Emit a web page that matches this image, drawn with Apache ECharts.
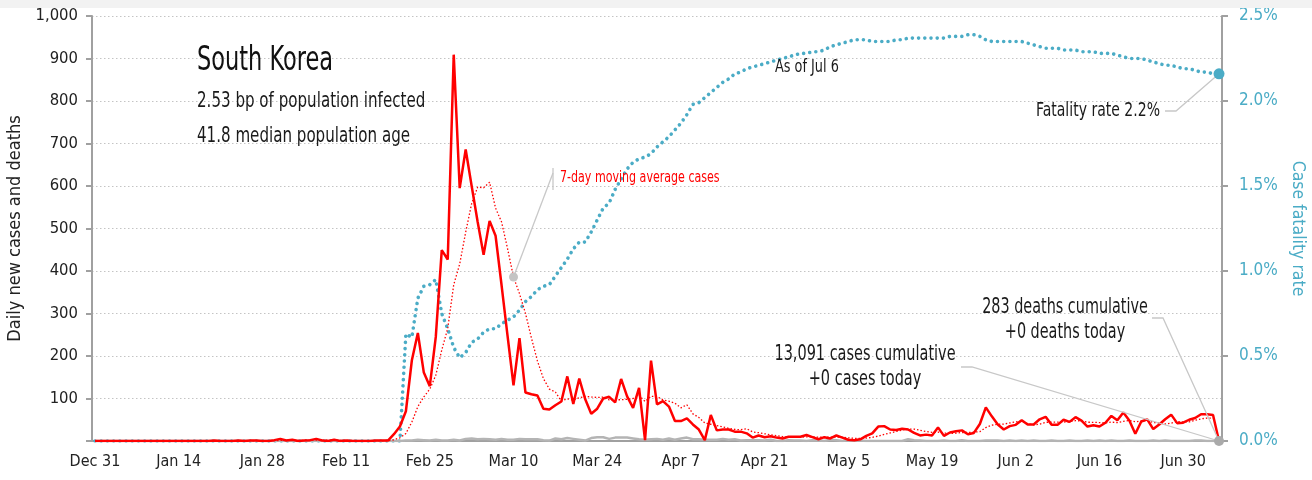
<!DOCTYPE html>
<html>
<head>
<meta charset="utf-8">
<title>South Korea</title>
<script src="https://cdn.jsdelivr.net/npm/echarts@6.0.0/dist/echarts.min.js"></script>
<style>
  html, body { margin: 0; padding: 0; background: #fff; }
  #chart { width: 1312px; height: 480px; }
</style>
</head>
<body>
<div id="chart"></div>
<script>
const FONT = '"Liberation Sans Narrow", "DejaVu Sans Condensed", sans-serif'
const BLUE = '#4bacc6'
const RED = '#ff0000'
const GREY = '#b4b4b4'
const LEADER = '#c8c8c8'

// one value per day, starting Dec 31 (rows of 14 days)
const startDate = '2019-12-31'
const monthNames = ['Jan', 'Feb', 'Mar', 'Apr', 'May', 'Jun', 'Jul', 'Aug', 'Sep', 'Oct', 'Nov', 'Dec']

const cases = [
  0, 0, 0, 0, 0, 0, 0, 0, 0, 0, 0, 0, 0, 0,
  0, 0, 0, 0, 0, 0, 1, 0, 0, 0, 1, 0, 1, 1,
  0, 0, 2, 5, 1, 3, 0, 1, 2, 5, 1, 0, 3, 0,
  1, 0, 0, 0, 0, 1, 1, 1, 16, 34, 70, 190, 254, 161,
  129, 245, 449, 427, 909, 595, 686, 600, 516, 438, 518, 483, 367, 248,
  131, 242, 114, 110, 107, 76, 74, 84, 93, 152, 87, 147, 98, 64,
  76, 100, 104, 91, 146, 105, 78, 125, 2, 189, 86, 94, 81, 47,
  47, 53, 39, 27, 2, 61, 25, 27, 27, 22, 22, 18, 8, 13,
  9, 11, 8, 6, 10, 10, 10, 14, 9, 4, 9, 6, 13, 8,
  3, 2, 4, 12, 18, 34, 35, 27, 26, 29, 27, 19, 13, 15,
  13, 32, 12, 20, 23, 25, 16, 19, 40, 79, 58, 39, 27, 35,
  38, 49, 39, 39, 51, 57, 38, 38, 50, 45, 56, 48, 34, 37,
  34, 43, 59, 49, 67, 48, 17, 46, 51, 28, 39, 51, 62, 42,
  43, 50, 54, 63, 63, 61, 0
]

const casesAvg7 = [
  0, 0, 0, 0, 0, 0, 0, 0, 0, 0, 0, 0, 0, 0,
  0, 0, 0, 0, 0, 0, 0.1, 0.1, 0.1, 0.1, 0.3, 0.3, 0.4, 0.4,
  0.4, 0.4, 0.7, 1.3, 1.4, 1.7, 1.6, 1.7, 2, 2.4, 1.9, 1.7, 1.7, 1.7,
  1.7, 1.4, 0.7, 0.6, 0.6, 0.3, 0.4, 0.4, 2.7, 7.6, 17.6, 44.7, 80.9, 103.7,
  122, 154.7, 214, 265, 367.7, 416.4, 491.4, 558.7, 597.4, 595.9, 608.9, 548, 515.4, 452.9,
  385.9, 346.7, 300.4, 242.1, 188.4, 146.9, 122, 115.3, 94, 99.4, 96.1, 101.9, 105, 103.6,
  102.4, 103.4, 96.6, 97.1, 97, 98, 100, 107, 93, 105.1, 104.4, 97, 93.6, 89.1,
  78, 85.3, 63.9, 55.4, 42.3, 39.4, 36.3, 33.4, 29.7, 27.3, 26.6, 28.9, 21.3, 19.6,
  17, 14.7, 12.7, 10.4, 9.3, 9.6, 9.1, 9.9, 9.6, 9, 9.4, 8.9, 9.3, 9,
  7.4, 6.4, 6.4, 6.9, 8.6, 11.6, 15.4, 18.9, 22.3, 25.9, 28, 28.1, 25.1, 22.3,
  20.3, 21.1, 18.7, 17.7, 18.3, 20, 20.1, 21, 22.1, 31.7, 37.1, 39.4, 39.7, 42.4,
  45.1, 46.4, 40.7, 38, 39.7, 44, 44.4, 44.4, 44.6, 45.4, 47.9, 47.4, 44.1, 44,
  43.4, 42.4, 44.4, 43.4, 46.1, 48.1, 45.3, 47, 48.1, 43.7, 42.3, 40, 42, 45.6,
  45.1, 45, 48.7, 52.1, 53.9, 53.7, null
]

const deaths = [
  0, 0, 0, 0, 0, 0, 0, 0, 0, 0, 0, 0, 0, 0,
  0, 0, 0, 0, 0, 0, 0, 0, 0, 0, 0, 0, 0, 0,
  0, 0, 0, 0, 0, 0, 0, 0, 0, 0, 0, 0, 0, 0,
  0, 0, 0, 0, 0, 0, 0, 0, 0, 0, 1, 1, 3, 2,
  1, 3, 1, 1, 3, 1, 5, 6, 4, 5, 4, 3, 5, 3,
  3, 5, 4, 4, 4, 2, 1, 6, 4, 7, 5, 3, 1, 7,
  9, 9, 5, 8, 8, 8, 6, 4, 3, 4, 5, 3, 6, 3,
  6, 8, 4, 4, 3, 3, 3, 5, 3, 4, 1, 2, 2, 2,
  1, 3, 0, 0, 2, 1, 1, 0, 2, 1, 0, 3, 2, 0,
  2, 1, 1, 0, 0, 0, 0, 0, 0, 0, 4, 2, 1, 0,
  0, 0, 1, 0, 0, 2, 0, 0, 0, 1, 1, 1, 0, 1,
  0, 1, 0, 1, 0, 0, 1, 0, 0, 1, 0, 0, 1, 0,
  1, 0, 1, 0, 0, 1, 0, 0, 0, 1, 0, 1, 0, 0,
  0, 0, 1, 1, 0, 0, 0
]

// case fatality rate, percent
const fatalityRate = [
  0, 0, 0, 0, 0, 0, 0, 0, 0, 0, 0, 0, 0, 0,
  0, 0, 0, 0, 0, 0, 0, 0, 0, 0, 0, 0, 0, 0,
  0, 0, 0, 0, 0, 0, 0, 0, 0, 0, 0, 0, 0, 0,
  0, 0, 0, 0, 0, 0, 0, 0, 0, 0, 0.63, 0.61, 0.84, 0.91,
  0.92, 0.95, 0.75, 0.66, 0.55, 0.49, 0.52, 0.58, 0.60, 0.64, 0.66, 0.66, 0.69, 0.71,
  0.73, 0.77, 0.82, 0.85, 0.89, 0.91, 0.92, 0.97, 1.02, 1.07, 1.13, 1.17, 1.17, 1.23,
  1.30, 1.37, 1.40, 1.48, 1.54, 1.60, 1.64, 1.66, 1.67, 1.69, 1.73, 1.76, 1.79, 1.83,
  1.87, 1.92, 1.98, 1.99, 2.02, 2.05, 2.08, 2.11, 2.13, 2.16, 2.17, 2.19, 2.20, 2.21,
  2.22, 2.23, 2.24, 2.25, 2.26, 2.27, 2.28, 2.28, 2.29, 2.29, 2.30, 2.32, 2.33, 2.34,
  2.35, 2.36, 2.36, 2.36, 2.35, 2.35, 2.35, 2.35, 2.36, 2.36, 2.37, 2.37, 2.37, 2.37,
  2.37, 2.37, 2.37, 2.38, 2.38, 2.38, 2.39, 2.39, 2.38, 2.36, 2.35, 2.35, 2.35, 2.35,
  2.35, 2.35, 2.34, 2.33, 2.32, 2.31, 2.31, 2.31, 2.30, 2.30, 2.30, 2.29, 2.29, 2.29,
  2.28, 2.28, 2.28, 2.27, 2.26, 2.25, 2.25, 2.25, 2.24, 2.23, 2.22, 2.21, 2.21, 2.20,
  2.19, 2.19, 2.18, 2.17, 2.17, 2.16, 2.16
]

const categories = cases.map((_, i) => {
  const d = new Date(Date.parse(startDate) + i * 864e5)
  return monthNames[d.getUTCMonth()] + ' ' + d.getUTCDate()
})

const axisGrey = { color: '#a0a0a0', width: 2 }

const chart = echarts.init(document.getElementById('chart'))
chart.setOption({
  animation: false,
  textStyle: { fontFamily: FONT },
  grid: { left: 92, right: 90, top: 16, bottom: 39, containLabel: false, outerBoundsMode: 'none' },
  xAxis: {
    type: 'category',
    data: categories,
    boundaryGap: true,
    axisLine: { lineStyle: axisGrey },
    axisTick: { interval: 13, length: 6, lineStyle: axisGrey },
    axisLabel: { interval: 13, fontSize: 16, color: '#222', margin: 13, fontFamily: FONT }
  },
  yAxis: [{
    type: 'value',
    min: 0,
    max: 1000,
    interval: 100,
    name: 'Daily new cases and deaths',
    nameLocation: 'middle',
    nameGap: 63,
    nameTextStyle: { fontSize: 18, color: '#222', fontFamily: FONT },
    axisLine: { show: true, lineStyle: axisGrey },
    axisTick: { show: true, length: 6, lineStyle: axisGrey },
    axisLabel: {
      fontSize: 16.5, color: '#222', margin: 14, fontFamily: FONT,
      formatter: v => v === 0 ? '' : v.toLocaleString('en-US')
    },
    splitLine: { lineStyle: { type: [1.5, 2.5], color: '#c4c4c4', width: 1 } }
  }, {
    type: 'value',
    position: 'right',
    min: 0,
    max: 2.5,
    interval: 0.5,
    name: 'Case fatality rate',
    nameLocation: 'middle',
    nameRotate: -90,
    nameGap: 64,
    nameTextStyle: { fontSize: 17.5, color: BLUE, fontFamily: FONT },
    axisLine: { show: true, lineStyle: axisGrey },
    axisTick: { show: true, length: 6, lineStyle: axisGrey },
    axisLabel: { fontSize: 17, color: BLUE, margin: 17, fontFamily: FONT, formatter: v => v.toFixed(1) + '%' },
    splitLine: { show: false }
  }],
  series: [{
    name: 'Case fatality rate',
    type: 'line',
    yAxisIndex: 1,
    data: fatalityRate,
    showSymbol: false,
    lineStyle: { color: BLUE, width: 3.6, type: [0.01, 6.2], cap: 'round' }
  }, {
    name: 'Daily deaths',
    type: 'line',
    data: deaths,
    showSymbol: false,
    lineStyle: { color: GREY, width: 2.5 }
  }, {
    name: '7-day moving average cases',
    type: 'line',
    data: casesAvg7,
    showSymbol: false,
    lineStyle: { color: RED, width: 1.3, type: [1.5, 2] }
  }, {
    name: 'Daily new cases',
    type: 'line',
    data: cases,
    showSymbol: false,
    lineStyle: { color: RED, width: 2.5 }
  }]
})

// annotations, anchored on the data through the axes
const last = cases.length - 1
const avgIdx = categories.indexOf('Mar 10')
const ptCfr = chart.convertToPixel({ xAxisIndex: 0, yAxisIndex: 1 }, [last, fatalityRate[last]])
const ptEnd = chart.convertToPixel({ xAxisIndex: 0, yAxisIndex: 0 }, [last, cases[last]])
const ptAvg = chart.convertToPixel({ xAxisIndex: 0, yAxisIndex: 0 }, [avgIdx, casesAvg7[avgIdx]])

// the source face is a tall condensed one: stretch the text a little vertically
const txt = (x, y, text, size, color, align, stretch) => ({
  type: 'text', x, y, z: 100, scaleY: stretch || 1.3,
  style: { text, fontSize: size, fontFamily: FONT, fill: color || '#1a1a1a', align: align || 'left', verticalAlign: 'middle' }
})
const leader = points => ({
  type: 'polyline', z: 90, shape: { points },
  style: { stroke: LEADER, lineWidth: 1.3, fill: null }
})
const dot = (p, r, color) => ({ type: 'circle', z: 95, shape: { cx: p[0], cy: p[1], r }, style: { fill: color } })

chart.setOption({
  graphic: [
    { type: 'rect', z: 1, shape: { x: 0, y: 0, width: 1312, height: 8 }, style: { fill: '#f2f2f2' } },
    txt(197, 61, 'South Korea', 25, '#111', 'left', 1.35),
    txt(197, 101, '2.53 bp of population infected', 16.8),
    txt(197, 136, '41.8 median population age', 16.8),
    leader([[553, 168], [553, 190]]),
    leader([[553, 173], ptAvg]),
    dot(ptAvg, 4.5, '#c4c4c4'),
    txt(560, 178, '7-day moving average cases', 12.3, RED),
    txt(775, 67, 'As of Jul 6', 14.3, '#1a1a1a', 'left', 1.25),
    leader([[1165, 111], [1176, 111], ptCfr]),
    dot(ptCfr, 5.5, BLUE),
    txt(1160, 111, 'Fatality rate 2.2%', 15.6, '#1a1a1a', 'right'),
    txt(1065, 308, '283 deaths cumulative', 16, '#1a1a1a', 'center'),
    txt(1065, 333, '+0 deaths today', 16, '#1a1a1a', 'center'),
    leader([[1152, 318], [1163, 318], ptEnd]),
    txt(865, 355, '13,091 cases cumulative', 16.1, '#1a1a1a', 'center'),
    txt(865, 380, '+0 cases today', 16.1, '#1a1a1a', 'center'),
    leader([[961, 367], [972, 367], ptEnd]),
    dot(ptEnd, 5, '#aaaaaa')
  ]
})
</script>
</body>
</html>
